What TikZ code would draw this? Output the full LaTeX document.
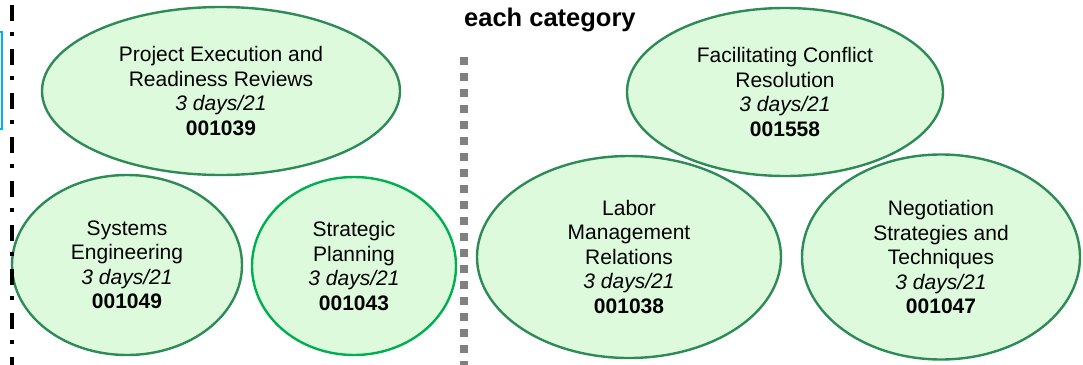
\documentclass[tikz,border=0pt]{standalone}
\usepackage{fontspec}
\setmainfont{Liberation Sans}
\usetikzlibrary{shapes.geometric}
\definecolor{ellfill}{RGB}{221,251,220}
\definecolor{ellline}{RGB}{46,139,87}
\definecolor{ellbright}{RGB}{0,176,80}
\definecolor{sepgray}{RGB}{128,128,128}
\definecolor{boxblue}{RGB}{0,176,240}
\begin{document}
\begin{tikzpicture}[x=1pt,y=-1pt,
  course/.style={ellipse, draw=ellline, fill=ellfill, line width=2.4pt, inner sep=0pt,
    align=center, font=\fontsize{21}{24.5}\selectfont},
  brightcourse/.style={course, draw=ellbright},
  heading/.style={anchor=base west, inner sep=0pt, font=\bfseries\fontsize{25.5}{29}\selectfont},
  dashdotline/.style={line width=4pt, dash pattern=on 16pt off 11pt on 4pt off 13pt},
  grayline/.style={sepgray, line width=8pt, dash pattern=on 7.5pt off 8.5pt},
  bluebox/.style={boxblue, line width=2pt}]
\useasboundingbox (0,0) rectangle (1083,364);
% partial blue box at the left edge
\draw[bluebox] (-30,32) rectangle (2,129);
% heading
\node[heading] (head) at (464,27) {each category};
% gray separator
\coordinate (gt) at (464,57);
\coordinate (gb) at (464,368);
\draw[grayline] (gt) -- (gb);
% course ellipses
\node[course, minimum width=358pt, minimum height=168pt] (pe) at (221,91)
  {Project Execution and\\Readiness Reviews\\\textit{3 days/21}\\\textbf{001039}};
\node[course, minimum width=230pt, minimum height=180pt] (se) at (127,265)
  {Systems\\Engineering\\\textit{3 days/21}\\\textbf{001049}};
\node[brightcourse, minimum width=204pt, minimum height=178pt] (sp) at (354,266)
  {Strategic\\Planning\\\textit{3 days/21}\\\textbf{001043}};
\node[course, minimum width=316pt, minimum height=168pt] (fc) at (785,92)
  {Facilitating Conflict\\Resolution\\\textit{3 days/21}\\\textbf{001558}};
\node[course, minimum width=304pt, minimum height=202pt] (lm) at (629,257)
  {Labor\\Management\\Relations\\\textit{3 days/21}\\\textbf{001038}};
\node[course, minimum width=278pt, minimum height=205pt] (ns) at (941,257)
  {Negotiation\\Strategies and\\Techniques\\\textit{3 days/21}\\\textbf{001047}};
% left dash-dot separator
\coordinate (lt) at (12,5);
\coordinate (lb) at (12,368);
\draw[dashdotline] (lt) -- (lb);
\end{tikzpicture}
\end{document}
